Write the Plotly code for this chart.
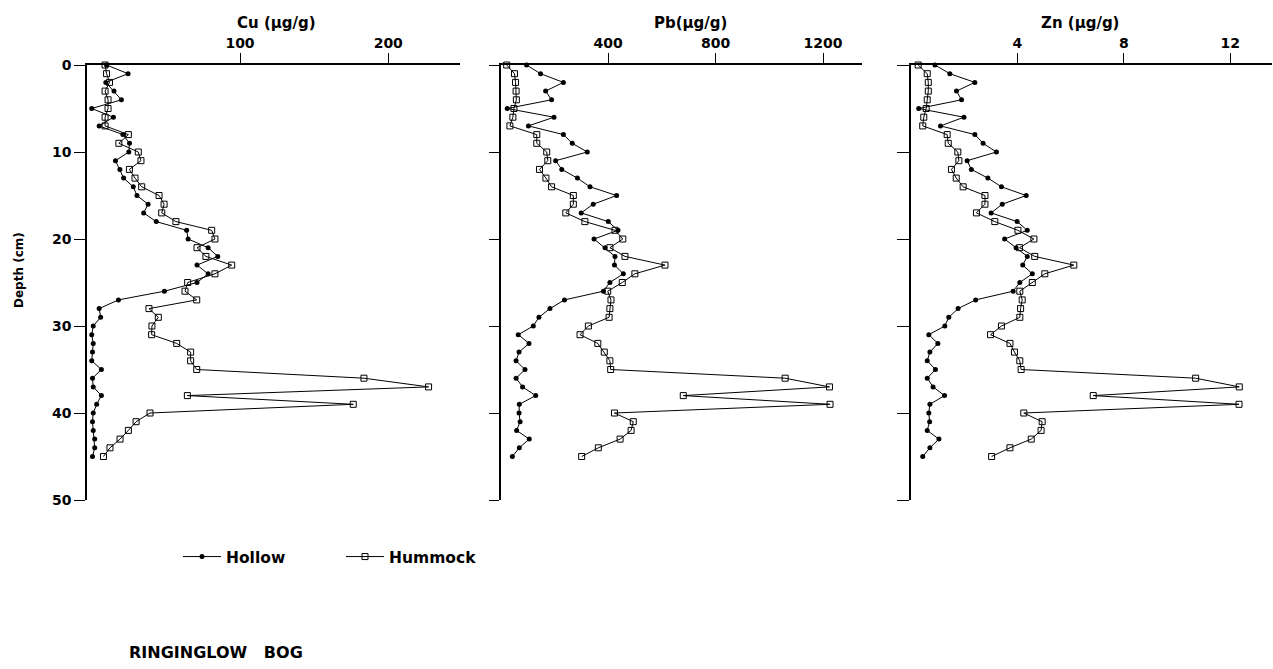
import plotly.graph_objects as go

depth = [0, 1, 2, 3, 4, 5, 6, 7, 8, 9, 10, 11, 12, 13, 14, 15, 16, 17, 18, 19, 20, 21, 22,
         23, 24, 25, 26, 27, 28, 29, 30, 31, 32, 33, 34, 35, 36, 37, 38, 39, 40, 41, 42, 43, 44, 45]

cu_hollow = [10, 24.5, 9.5, 15, 20, 0, 14.6, 5, 21, 25.5, 25, 16, 19, 21.5, 28, 30.5, 38, 35, 43.5,
             64, 65, 78.5, 85, 71, 78.5, 71, 49, 18, 5, 6, 1, 0, 1, 0.5, 0, 6.5, 0.5, 1, 6.5, 3.3,
             1, 0.5, 1, 2, 2, 0.5]
cu_hummock = [9, 10, 12, 9, 11, 11, 9, 9, 24.7, 18.3, 31.4, 33.2, 25.4, 29.2, 33.7, 45.4, 48.8, 47.2,
              56.8, 80.9, 83.1, 71, 77, 94.4, 83.1, 64.7, 62.9, 70.8, 38.6, 44.9, 40.6, 40.4, 57.3,
              66.7, 66.7, 70.8, 183.6, 227.2, 64.5, 176.4, 39.3, 29.9, 24.7, 19.1, 12.3, 7.9]

pb_hollow = [97, 149, 234, 168, 190, 25, 199, 104, 234, 267, 323, 205, 228, 286, 333, 432, 345, 300,
             401, 437, 348, 389, 426, 424, 457, 407, 383, 238, 184, 143, 122, 66, 106, 69, 58, 91, 58,
             82, 131, 70, 69, 73, 60, 107, 70, 44]
pb_hummock = [23, 52, 56, 58, 59, 50, 46, 35, 135, 135, 172, 176, 145, 169, 190, 271, 271, 243, 314,
              426, 455, 407, 463, 612, 500, 453, 399, 411, 407, 404, 327, 296, 362, 386, 407, 410,
              1059, 1224, 680, 1226, 424, 494, 486, 445, 364, 302]

zn_hollow = [0.9, 1.46, 2.40, 1.71, 1.90, 0.29, 1.99, 1.11, 2.40, 2.71, 3.21, 2.11, 2.27, 2.89, 3.40,
             4.33, 3.43, 3.01, 3.99, 4.37, 3.52, 3.95, 4.37, 4.20, 4.56, 4.09, 3.84, 2.43, 1.77, 1.42,
             1.27, 0.67, 1.01, 0.71, 0.61, 0.92, 0.61, 0.83, 1.26, 0.71, 0.67, 0.70, 0.61, 1.05, 0.71,
             0.44]
zn_hummock = [0.27, 0.61, 0.65, 0.65, 0.61, 0.57, 0.48, 0.44, 1.36, 1.40, 1.76, 1.80, 1.52, 1.70, 1.96,
              2.78, 2.78, 2.46, 3.15, 4.02, 4.62, 4.08, 4.65, 6.12, 5.03, 4.56, 4.09, 4.18, 4.12, 4.09,
              3.40, 2.99, 3.72, 3.89, 4.09, 4.14, 10.7, 12.34, 6.85, 12.33, 4.24, 4.93, 4.89, 4.52,
              3.72, 3.03]

panel_titles = ["Cu (µg/g)", "Pb(µg/g)", "Zn (µg/g)"]
cu_ticks = [100, 200]
pb_ticks = [400, 800, 1200]
zn_ticks = [4, 8, 12]
depth_ticks = [0, 10, 20, 30, 40, 50]
series_names = ["Hollow", "Hummock"]
site_name = "RINGINGLOW   BOG"

W, H = 1273, 669
FONT = "DejaVu Sans"


def px(x):
    return x / W


def py(y):
    return 1 - y / H


fig = go.Figure()

panels = [
    (cu_hollow, cu_hummock, "x", "y"),
    (pb_hollow, pb_hummock, "x2", "y2"),
    (zn_hollow, zn_hummock, "x3", "y3"),
]
for i, (hol, hum, xa, ya) in enumerate(panels):
    fig.add_trace(go.Scatter(
        x=hol, y=depth, xaxis=xa, yaxis=ya, mode="lines+markers", name=series_names[0],
        line=dict(color="black", width=1),
        marker=dict(symbol="circle", size=5, color="black"),
        showlegend=(i == 0), cliponaxis=False))
    fig.add_trace(go.Scatter(
        x=hum, y=depth, xaxis=xa, yaxis=ya, mode="lines+markers", name=series_names[1],
        line=dict(color="black", width=1),
        marker=dict(symbol="square-open", size=6, color="black", line=dict(width=1)),
        showlegend=(i == 0), cliponaxis=False))

ydom = [py(500), py(65)]
tfont = dict(family=FONT, size=14, color="black", weight="bold")
common_x = dict(side="top", showline=True, linecolor="black", linewidth=1.5, ticks="outside",
                ticklen=10, tickwidth=1, tickcolor="black", showgrid=False, zeroline=False,
                tickfont=tfont, tickmode="array", automargin=False)
common_y = dict(showline=True, linecolor="black", linewidth=1.5, ticks="outside", ticklen=11,
                tickwidth=1, tickcolor="black", showgrid=False, zeroline=False,
                range=[50, 0], domain=ydom, tickmode="array", tickvals=depth_ticks,
                tickfont=tfont, automargin=False)

fig.update_layout(
    xaxis=dict(common_x, domain=[px(87), px(460)], range=[-3.2, 248.4], tickvals=cu_ticks,
               anchor="y"),
    xaxis2=dict(common_x, domain=[px(500.5), px(862)], range=[0, 1345], tickvals=pb_ticks,
                anchor="y2"),
    xaxis3=dict(common_x, domain=[px(911), px(1272)], range=[0, 13.57], tickvals=zn_ticks,
                anchor="y3"),
    yaxis=dict(common_y, anchor="x"),
    yaxis2=dict(common_y, anchor="x2", showticklabels=False, ticklen=10),
    yaxis3=dict(common_y, anchor="x3", showticklabels=False, ticklen=12),
)

title_pos = [(276, 23), (690, 23), (1080, 23)]
for t, (x, y) in zip(panel_titles, title_pos):
    fig.add_annotation(text=t, x=px(x), y=py(y), xref="paper", yref="paper", showarrow=False,
                       xanchor="center", yanchor="middle",
                       font=dict(family=FONT, size=15, color="black", weight="bold"))

fig.add_annotation(text="Depth (cm)", x=px(19), y=py(270), xref="paper", yref="paper",
                   showarrow=False, textangle=-90, xanchor="center", yanchor="middle",
                   font=dict(family=FONT, size=12, color="black", weight="bold"))

fig.add_annotation(text=site_name, x=px(127), y=py(652), xref="paper", yref="paper",
                   showarrow=False, xanchor="left", yanchor="middle",
                   font=dict(family=FONT, size=16, color="black", weight="bold"))

fig.update_layout(
    width=W, height=H, margin=dict(l=0, r=0, t=0, b=0, autoexpand=False),
    paper_bgcolor="white", plot_bgcolor="white",
    showlegend=True,
    legend=dict(orientation="h", x=px(178), y=py(557), xanchor="left", yanchor="middle",
                entrywidth=110, entrywidthmode="pixels", bgcolor="rgba(0,0,0,0)",
                font=dict(family=FONT, size=15.5, color="black", weight="bold"), itemwidth=38),
)

fig.write_html("out.html", post_script="document.body.style.margin='0';",
               config={"displayModeBar": False})
